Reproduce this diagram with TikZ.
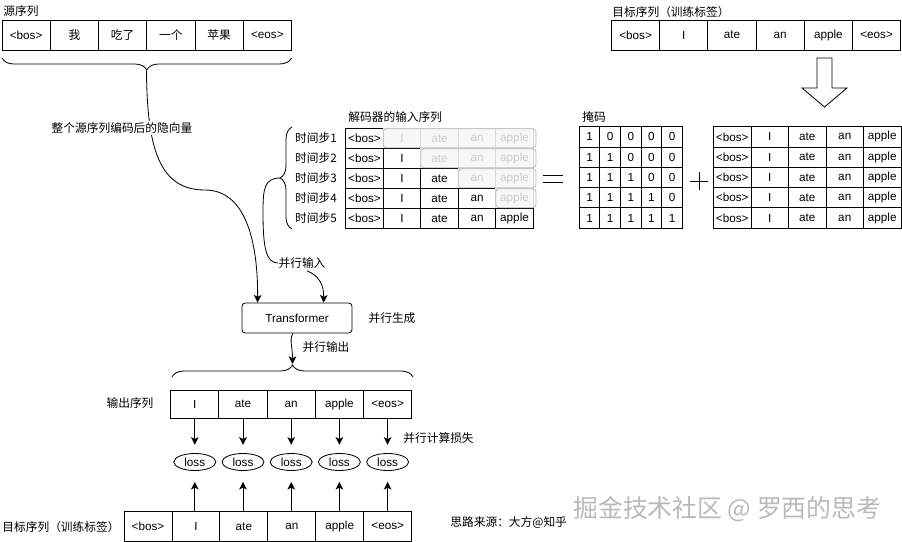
\documentclass[tikz,border=0pt]{standalone}
\usepackage{fontspec}
\setmainfont{Liberation Sans}
\newfontfamily\cjk{Noto Sans CJK SC}
\usetikzlibrary{arrows.meta,calc,shapes.geometric,decorations.pathreplacing}

\tikzset{
  cell/.style={draw, inner sep=0pt, outer sep=0pt, font=\fontsize{10}{12}\selectfont},
  bigcell/.style={cell, minimum width=14.46mm, minimum height=9mm},
  midcell/.style={cell, minimum width=11.26mm, minimum height=6mm},
  bitcell/.style={cell, minimum width=6.18mm, minimum height=6.09mm},
  ghost/.style={midcell, draw=gray!30, text=gray!40},
  lab/.style={inner sep=0pt, font=\cjk\fontsize{10}{12}\selectfont},
  arr/.style={-{Stealth[length=2.3mm,width=2.3mm,inset=0.6mm]}},
  brc/.style={decorate, decoration={brace, amplitude=3.6mm}},
}

\begin{document}
\begin{tikzpicture}[x=0.3mm, y=-0.3mm, line width=0.7pt]
  \useasboundingbox (0,0) rectangle (902,542);

  % Source sequence
  \node[lab, anchor=west] (srclab) at (3,11) {源序列};
  \foreach \t [count=\i] in {{<bos>},{\cjk 我},{\cjk 吃了},{\cjk 一个},{\cjk 苹果},{<eos>}}
    \node[bigcell] (src\i) at ({2+48.25*(\i-0.5)},35) {\t};
  \draw[brc] (291.5,58) -- (2,58);
  \coordinate (srctip) at (146.5,70.5);

  % Target sequence (top right)
  \node[lab, anchor=west] (tgtlab) at (612,12) {目标序列（训练标签）};
  \foreach \t [count=\i] in {<bos>,I,ate,an,apple,<eos>}
    \node[bigcell] (tgt\i) at ({611.5+48.2*(\i-0.5)},35) {\t};
  \draw (817,58) -- (832,58) -- (832,88) -- (847,88) -- (824.5,107)
    -- (802,88) -- (817,88) -- cycle;

  % Decoder input, one row per time step
  \node[lab, anchor=west] (declab) at (348,117) {解码器的输入序列};
  \foreach \row in {1,...,4}
    \fill[gray!6, rounded corners=1mm] ({345.7+37.52*\row},{128.8+20*(\row-1)})
      rectangle (536,{127.8+20*\row});
  \foreach \row in {1,...,5} {
    \node[lab] (step\row) at (316,{138.3+20*(\row-1)}) {时间步\row};
    \foreach \t [count=\col] in {<bos>,I,ate,an,apple} {
      \ifnum\col>\row\relax
        \node[ghost] (d\row\col) at ({345.7+37.52*(\col-0.5)},{138.3+20*(\row-1)}) {\t};
      \else
        \node[midcell] (d\row\col) at ({345.7+37.52*(\col-0.5)},{138.3+20*(\row-1)}) {\t};
      \fi
    }
  }
  \foreach \row in {1,...,4}
    \draw[gray!50, rounded corners=1mm] ({345.7+37.52*\row},{128.8+20*(\row-1)})
      rectangle (536,{127.8+20*\row});
  \draw[brc] (292,229) -- (292,127);
  \coordinate (steptip) at (280,178);

  % = mask + full target
  \draw (543,175) -- (563,175) (543,182) -- (563,182);
  \node[lab, anchor=west] (masklab) at (582,117) {掩码};
  \foreach \row in {1,...,5}
    \foreach \col in {1,...,5}
      \node[bitcell] (m\row\col) at ({579.3+20.6*(\col-0.5)},{126.7+20.3*(\row-0.5)})
        {\ifnum\col>\row\relax 0\else 1\fi};
  \draw (690,181) -- (708,181) (699,172) -- (699,190);
  \foreach \row in {1,...,5}
    \foreach \t [count=\col] in {<bos>,I,ate,an,apple}
      \node[midcell, minimum height=6.09mm] (f\row\col) at ({713.5+37.5*(\col-0.5)},{126.7+20.3*(\row-0.5)}) {\t};

  % Transformer
  \node[draw, rounded corners=1mm, minimum width=33mm, minimum height=9mm,
    font=\fontsize{10}{12}\selectfont] (tf) at (297,318) {Transformer};
  \node[lab] (gen) at (392,318) {并行生成};

  % Hidden vector towards the Transformer
  \draw[arr] (srctip) .. controls (147,150) and (160,190) .. (205,190)
    .. controls (245,190) and (258,240) .. ($(tf.north west)+(16,0)$);
  \node[lab, fill=white, inner sep=1pt] (hid) at (122,128) {整个源序列编码后的隐向量};

  % Parallel input
  \node[lab] (pin) at (302,263) {并行输入};
  \draw (steptip) .. controls (264,178) and (263,190) .. (263,212)
    .. controls (263,248) and (266,263) .. (pin.west);
  \draw[arr] ($(pin.south)+(5,2)$) .. controls (318,275) and (324,284)
    .. ($(tf.north west)+(82,0)$);

  % Parallel output
  \draw[brc] (172,377) -- (413,377);
  \coordinate (outtip) at (292.5,364);
  \draw[arr] ($(tf.south)+(-4,0)$) .. controls (289,340) and (292.5,345) .. (outtip);
  \node[lab] (pout) at (326,347) {并行输出};
  \node[lab] (outlab) at (130,403) {输出序列};
  \foreach \t [count=\i] in {I,ate,an,apple,<eos>}
    \node[bigcell, minimum height=8.4mm] (out\i) at ({170.7+48.2*(\i-0.5)},404) {\t};

  % Target sequence (bottom)
  \node[lab, anchor=west] (lbllab) at (2,527) {目标序列（训练标签）};
  \foreach \t [count=\i] in {<bos>,I,ate,an,apple,<eos>}
    \node[bigcell, minimum width=14.385mm] (lbl\i) at ({124+47.95*(\i-0.5)},526.5) {\t};

  % Losses
  \foreach \i [evaluate=\i as \j using int(\i+1)] in {1,...,5} {
    \node[draw, ellipse, minimum width=12.6mm, minimum height=5.1mm, inner sep=0pt,
      font=\fontsize{10}{12}\selectfont] (loss\i) at ($(out\i)+(0,58)$) {loss};
    \draw[arr, shorten >=2.5mm] (out\i.south) -- (loss\i.north);
    \draw[arr, shorten >=3.3mm] (loss\i.south |- lbl\j.north) -- (loss\i.south);
  }
  \node[lab, anchor=west] (lossnote) at (403,438) {并行计算损失};

  % Notes
  \node[lab, anchor=west, font=\cjk\fontsize{10}{12}\selectfont] (srcnote) at (450,523) {思路来源：大方@知乎};
  \node[anchor=west, inner sep=0pt, text=gray!55, font=\cjk\fontsize{21.2}{25}\selectfont] (mark) at (573,509) {掘金技术社区 @ 罗西的思考};
\end{tikzpicture}
\end{document}
